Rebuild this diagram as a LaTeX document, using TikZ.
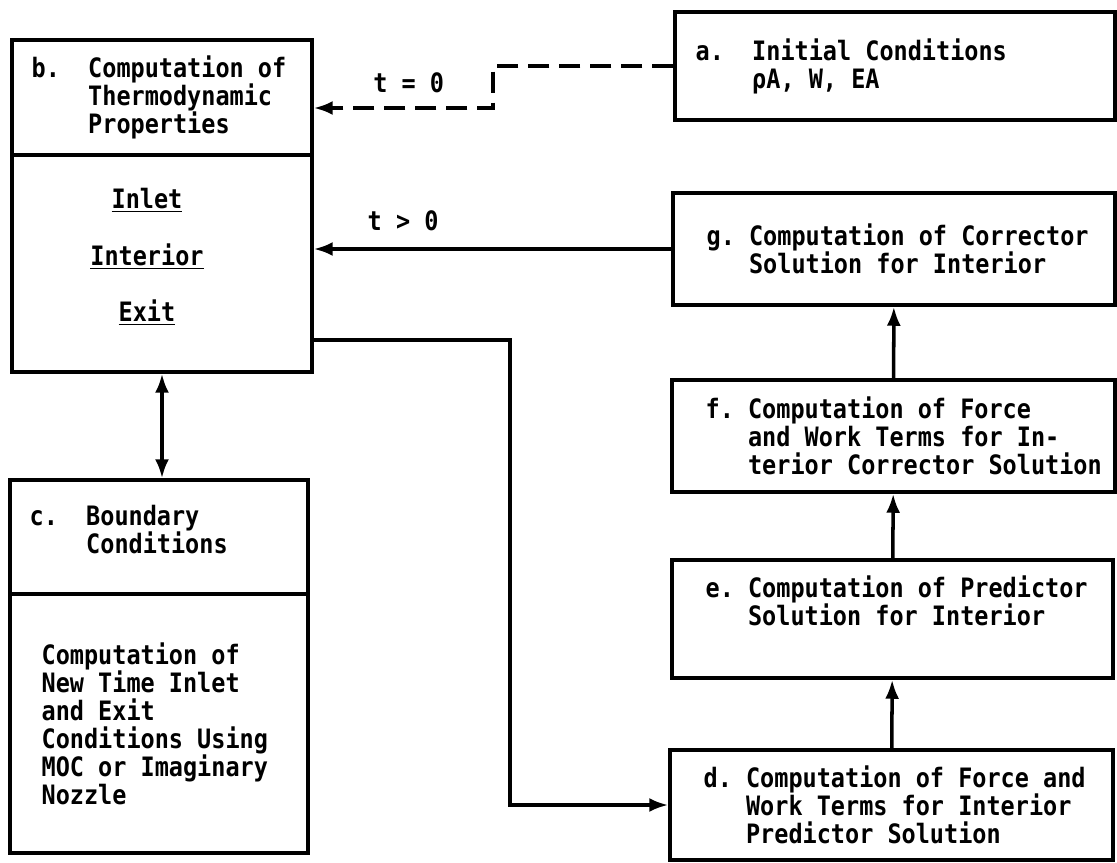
\documentclass[tikz,border=0pt]{standalone}
\usepackage{fontspec}
\newfontfamily\typefont[FakeStretch=0.88]{DejaVu Sans Mono}
\usetikzlibrary{arrows.meta}

\begin{document}
\begin{tikzpicture}[
	x=0.02cm, y=-0.02cm,
	block/.style={
		draw,
		line width=2pt,
		inner sep=0pt
	},
	txt/.style={
		font=\typefont\bfseries\fontsize{15.2pt}{15.9pt}\selectfont,
		align=left,
		inner sep=0pt
	},
	lbl/.style={
		font=\typefont\bfseries\fontsize{15.2pt}{15.9pt}\selectfont,
		inner sep=0pt
	},
	arrow/.style={line width=2pt, -{Latex[length=0.38cm, width=0.28cm]}},
	dblarrow/.style={line width=2pt, {Latex[length=0.38cm, width=0.28cm]}-{Latex[length=0.38cm, width=0.28cm]}},
	dasharrow/.style={arrow, dash pattern=on 0.42cm off 0.2cm}
	]
	\useasboundingbox (0,0) rectangle (1117,863);

	% ======================
	% Left column
	% ======================
	\node (bhead) [block, minimum width=6cm, minimum height=2.3cm] at (162,97.5) {};
	\node (bbody) [block, minimum width=6cm, minimum height=4.34cm] at (162,263.5) {};
	\node (bheadtext) [txt, anchor=west] at ([xshift=0.42cm]bhead.west)
	{b.~~Computation of\\~~~~Thermodynamic\\~~~~Properties};
	\node (bbodytext) [txt, align=center] at (147,257)
	{\underline{Inlet}\\[0.57cm]\underline{Interior}\\[0.57cm]\underline{Exit}};

	\node (chead) [block, minimum width=5.96cm, minimum height=2.28cm] at (159,537) {};
	\node (cbody) [block, minimum width=5.96cm, minimum height=5.18cm] at (159,723.5) {};
	\node (cheadtext) [txt, anchor=west] at ([xshift=0.42cm, yshift=0.14cm]chead.west)
	{c.~~Boundary\\~~~~Conditions};
	\node (cbodytext) [txt, anchor=west] at ([xshift=0.66cm]cbody.west)
	{Computation of\\New Time Inlet\\and Exit\\Conditions Using\\MOC or Imaginary\\Nozzle};

	% ======================
	% Right column
	% ======================
	\node (a) [block, minimum width=8.8cm, minimum height=2.16cm] at (895,66) {};
	\node (atext) [txt, anchor=west] at ([xshift=0.44cm]a.west)
	{a.~~Initial Conditions\\~~~~ρA, W, EA};

	\node (g) [block, minimum width=8.84cm, minimum height=2.24cm] at (894,249) {};
	\node (gtext) [txt, anchor=west] at ([xshift=0.7cm]g.west)
	{g.~Computation of Corrector\\~~~Solution for Interior};

	\node (f) [block, minimum width=8.86cm, minimum height=2.24cm] at (893.5,436) {};
	\node (ftext) [txt, anchor=west] at ([xshift=0.7cm]f.west)
	{f.~Computation of Force\\~~~and Work Terms for In-\\~~~terior Corrector Solution};

	\node (e) [block, minimum width=8.82cm, minimum height=2.36cm] at (892.5,619) {};
	\node (etext) [txt, anchor=west] at ([xshift=0.7cm, yshift=0.36cm]e.west)
	{e.~Computation of Predictor\\~~~Solution for Interior};

	\node (d) [block, minimum width=8.86cm, minimum height=2.2cm] at (891.5,805) {};
	\node (dtext) [txt, anchor=west] at ([xshift=0.7cm]d.west)
	{d.~Computation of Force and\\~~~Work Terms for Interior\\~~~Predictor Solution};

	% ======================
	% Connectors
	% ======================
	\draw[arrow] (d) -- (e);
	\draw[arrow] (e) -- (f);
	\draw[arrow] (f) -- (g);
	\draw[arrow] (g.west) -- node[lbl, above=0.32cm, pos=0.75] (tlater) {t > 0} (bbody.east |- g.west);
	\draw[dblarrow] (bbody.south) -- (bbody.south |- chead.north);

	% t = 0 start
	\coordinate (tzbend) at (493,108);
	\draw[dasharrow] (a.west) -| (tzbend) -- node[lbl, above=0.26cm, pos=0.47] (tnull) {t = 0} (bhead.east |- tzbend);

	% exit conditions to d
	\coordinate (exitbend) at (510,340);
	\draw[arrow] (bbody.east |- exitbend) -- (exitbend) |- (d.west);

\end{tikzpicture}
\end{document}
